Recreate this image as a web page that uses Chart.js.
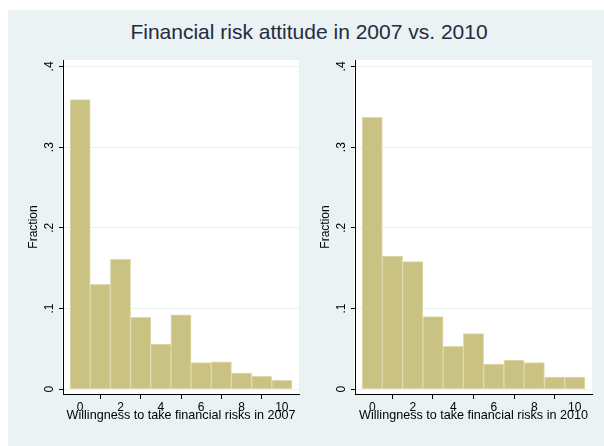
<!DOCTYPE html>
<html>
<head>
<meta charset="utf-8">
<script src="https://cdn.jsdelivr.net/npm/chart.js@4/dist/chart.umd.min.js"></script>
<style>
  html, body { margin: 0; padding: 0; background: #fff; }
  body { width: 604px; height: 446px; position: relative; overflow: hidden; font-family: "Liberation Sans", Arial, sans-serif; }
  #frame { position: absolute; left: 8px; top: 10px; width: 596px; height: 436px; background: #eaf2f3; }
  #title { position: absolute; left: 8px; top: 20px; width: 602px; text-align: center; font-size: 21px; color: #232b40; line-height: 24px; }
  canvas { position: absolute; top: 10px; }
  #left { left: 8px; }
  #right { left: 300px; }
</style>
</head>
<body>
<div id="frame"></div>
<div id="title">Financial risk attitude in 2007 vs. 2010</div>
<canvas id="left" width="292" height="436"></canvas>
<canvas id="right" width="304" height="436"></canvas>
<script>
// willingness score (0-10) and share of respondents per score
const scores = [0, 1, 2, 3, 4, 5, 6, 7, 8, 9, 10];
const share2007 = [0.359, 0.130, 0.161, 0.089, 0.056, 0.092, 0.033, 0.034, 0.020, 0.016, 0.011];
const share2010 = [0.337, 0.165, 0.158, 0.090, 0.053, 0.069, 0.031, 0.036, 0.033, 0.015, 0.015];
const xTicks = [0, 2, 4, 6, 8, 10];
const yTicks = [0, 0.1, 0.2, 0.3, 0.4];

const font = { family: '"Liberation Sans", Arial, sans-serif', size: 12 };
const xTitleFont = { family: '"Liberation Sans", Arial, sans-serif', size: 12.6 };

// white plot region
const plotBg = {
  id: 'plotBg',
  beforeDraw(chart) {
    const { ctx, chartArea: a } = chart;
    ctx.save();
    ctx.fillStyle = '#ffffff';
    ctx.fillRect(a.left - 1, a.top, a.right - a.left + 1, a.bottom - a.top);
    ctx.restore();
  }
};

function fmtFraction(v) {
  if (v === 0) return '0';
  return v.toFixed(1).replace(/^0/, '');
}

function histogram(id, values, year, padRight) {
  return new Chart(document.getElementById(id), {
    type: 'bar',
    data: {
      datasets: [{
        data: scores.map((s, i) => ({ x: s, y: values[i] })),
        backgroundColor: '#c9c282',
        borderColor: '#dfdaad',
        borderWidth: 1,
        borderSkipped: false,
        barPercentage: 1,
        categoryPercentage: 1
      }]
    },
    options: {
      responsive: false,
      animation: false,
      layout: { padding: { top: 50, right: padRight, bottom: 0, left: 0 } },
      plugins: { legend: { display: false }, tooltip: { enabled: false } },
      scales: {
        x: {
          type: 'linear',
          offset: false,
          min: -0.85,
          max: 10.85,
          afterBuildTicks: s => { s.ticks = xTicks.map(v => ({ value: v })); },
          afterFit: s => { s.height = 52; },
          grid: { drawOnChartArea: false, drawTicks: true, tickLength: 5, tickColor: '#000', color: '#000' },
          border: { display: true, color: '#000', width: 1 },
          ticks: { font, color: '#000', padding: 1, maxRotation: 0 },
          title: {
            display: true,
            text: 'Willingness to take financial risks in ' + year,
            font: xTitleFont,
            color: '#000',
            padding: { top: 0, bottom: 23 }
          }
        },
        y: {
          min: -0.006,
          max: 0.408,
          afterBuildTicks: s => { s.ticks = yTicks.map(v => ({ value: v })); },
          afterFit: s => { s.width = 55; },
          grid: { color: '#eaf2f3', tickColor: '#000', tickLength: 4, lineWidth: 1 },
          border: { display: true, color: '#000', width: 1 },
          ticks: {
            font, color: '#000', padding: 4, crossAlign: 'center',
            minRotation: 90, maxRotation: 90,
            callback: v => fmtFraction(v)
          },
          title: {
            display: true,
            text: 'Fraction',
            font,
            color: '#000',
            padding: { top: 18, bottom: 0 }
          }
        }
      }
    },
    plugins: [plotBg]
  });
}

histogram('left', share2007, 2007, 1);
histogram('right', share2010, 2010, 12);
</script>
</body>
</html>
